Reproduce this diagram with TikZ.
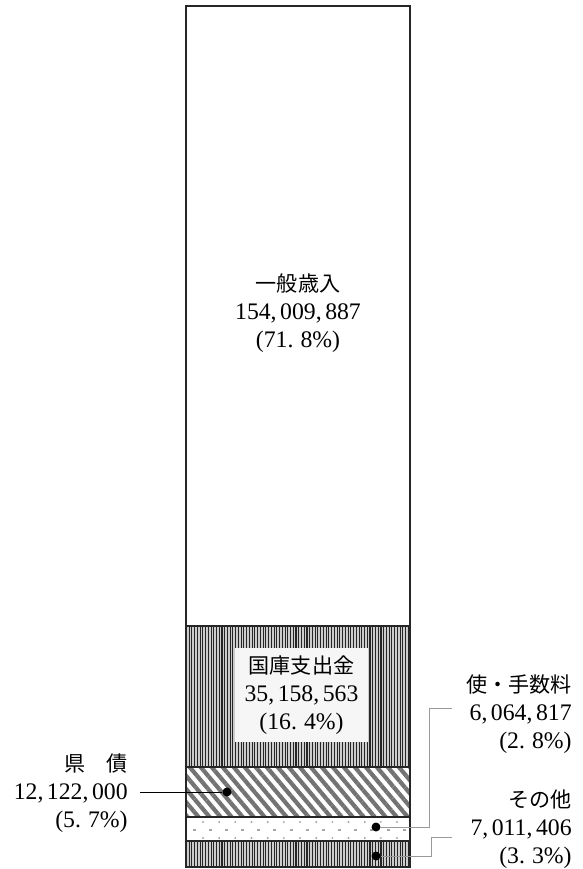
\documentclass[tikz,border=0pt]{standalone}
\usepackage{fontspec}
\setmainfont{Liberation Serif}
\newfontfamily\jp{Noto Sans CJK JP}
\usetikzlibrary{patterns.meta}
\newcommand\numsep{,\kern.15em}
\newcommand\decsep{.\kern.3em}
\newcommand\jptext[1]{{\jp\fontsize{12}{15.9}\selectfont #1}}

\begin{document}
\begin{tikzpicture}[x=0.02cm, y=-0.02cm,
    bar/.style={draw=black!85, line width=0.04cm},
    vstripes/.style={preaction={fill=gray!40}, pattern={Lines[angle=90, distance=1.56pt, line width=0.6pt]}, pattern color=black!85},
    hatch/.style={pattern={Lines[angle=-50, distance=4.8pt, line width=2.4pt]}, pattern color=black!55},
    lbl/.style={inner sep=0pt, font=\fontsize{13.5}{15.9}\selectfont},
    dot/.style={circle, fill=black, inner sep=0pt, minimum size=0.18cm},
    leader/.style={draw=gray!80, line width=0.02cm}
]
\useasboundingbox (0,0) rectangle (582,869);
% segments
\path[vstripes] (186,626) rectangle (410,767);
\path[hatch] (186,767) rectangle (410,817);
\path[vstripes] (186,841) rectangle (410,867);
\foreach \k in {0,...,12} {
    \fill[gray!70] (203+16.17*\k,822) circle (0.022cm);
    \fill[gray!70] (203+16.17*\k,838) circle (0.022cm);
}
\foreach \k in {0,...,13}
    \draw[gray!70, line width=0.025cm] (192.5+16.17*\k,830) -- ++(3,0);
% outline
\draw[bar] (186,6) rectangle (410,867);
\foreach \y in {626,767,817,841}
    \draw[bar] (186,\y) -- (410,\y);
% labels
\node[lbl, align=center] (ippan) at (298,313) {\jptext{一般歳入}\\154\numsep 009\numsep 887\\(71\decsep 8\%)};
\node[lbl, align=center, fill=gray!7, minimum width=2.66cm, minimum height=1.88cm] (kokko) at (301.5,695) {\jptext{国庫支出金}\\35\numsep 158\numsep 563\\(16\decsep 4\%)};
\node[lbl, align=right, anchor=east] (kensai) at (128,793) {\jptext{県　債}\\12\numsep 122\numsep 000\\(5\decsep 7\%)};
\node[lbl, align=right, anchor=east] (shiyo) at (572,714) {\jptext{使・手数料}\\6\numsep 064\numsep 817\\(2\decsep 8\%)};
\node[lbl, align=right, anchor=east] (sonota) at (572,829) {\jptext{その他}\\7\numsep 011\numsep 406\\(3\decsep 3\%)};
% leaders
\coordinate (kensaiEnd) at (140,792);
\coordinate (shiyoEnd) at (452,708);
\coordinate (sonotaEnd) at (452,837);
\node[dot] (kensaiDot) at (227,792) {};
\node[dot] (shiyoDot) at (376,827) {};
\node[dot] (sonotaDot) at (376,856) {};
\draw[line width=0.02cm] (kensaiEnd) -- (kensaiDot);
\draw[leader] (shiyoEnd) -- ++(-23,0) |- (shiyoDot);
\draw[leader] (sonotaEnd) -- ++(-21,0) |- (sonotaDot);
\end{tikzpicture}
\end{document}
